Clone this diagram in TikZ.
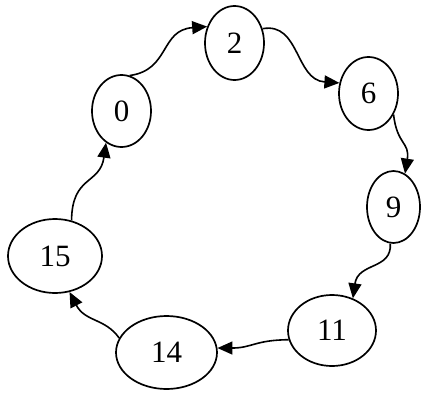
\documentclass[tikz,border=0pt]{standalone}
\usepackage{fontspec}
\setmainfont{Liberation Serif}
\usetikzlibrary{shapes.geometric,arrows.meta}
\begin{document}
\begin{tikzpicture}[x=1pt,y=-1pt,
  state/.style={draw, ellipse, line width=1.7pt, inner sep=0pt,
    font=\fontsize{31}{31}\selectfont},
  arr/.style={line width=1.6pt, -{Triangle[length=15pt,width=13pt]}}]
\useasboundingbox (0,0) rectangle (421,394);
\node[state, minimum width=59pt, minimum height=72pt] (n0) at (121.5,111) {0};
\node[state, minimum width=59pt, minimum height=74pt] (n2) at (234.5,43) {2};
\node[state, minimum width=59pt, minimum height=73pt] (n6) at (368.5,93.5) {6};
\node[state, minimum width=53pt, minimum height=72pt] (n9) at (393.5,207) {9};
\node[state, minimum width=88pt, minimum height=71pt] (n11) at (332,330.5) {11};
\node[state, minimum width=101pt, minimum height=73pt] (n14) at (166.5,352.5) {14};
\node[state, minimum width=94pt, minimum height=74pt] (n15) at (55,256) {15};
\draw[arr] (n0.77) .. controls (170,70) and (160,30) .. (n2.149);
\draw[arr] (n2.27) .. controls (300,22) and (295,80) .. (n6.160);
\draw[arr] (n6.-40) .. controls (397,145) and (410,142) .. (n9.71);
\draw[arr] (n9.-95) .. controls (392,270) and (358,262) .. (n11.57);
\draw[arr] (n11.192) .. controls (255,340) and (252,348) .. (n14.5);
\draw[arr] (n14.163) .. controls (105,318) and (85,322) .. (n15.-68);
\draw[arr] (n15.65) .. controls (72,175) and (100,185) .. (n0.-116);
\end{tikzpicture}
\end{document}
